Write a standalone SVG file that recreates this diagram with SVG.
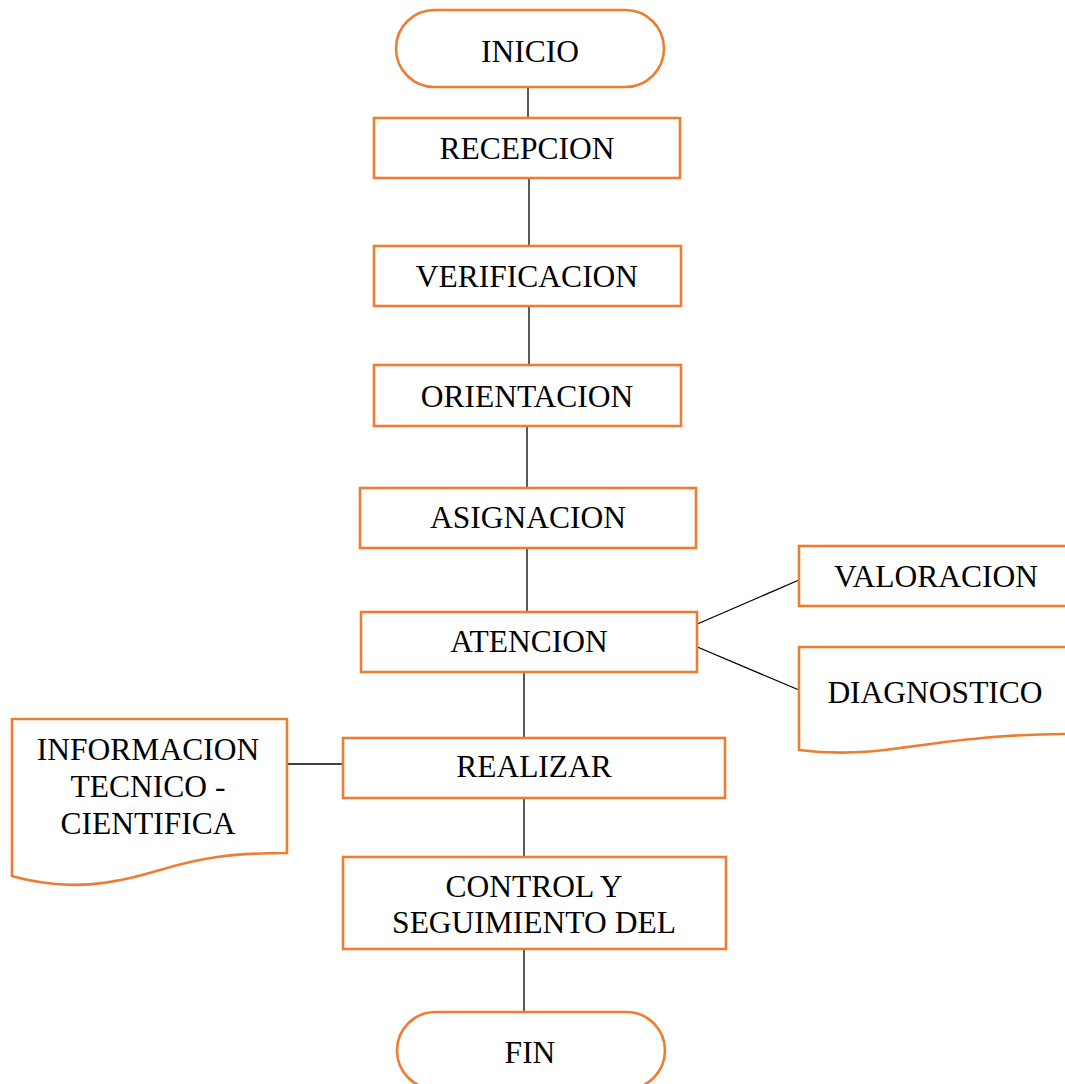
<svg xmlns="http://www.w3.org/2000/svg" width="1065" height="1084" viewBox="0 0 1065 1084">
<style>
.s{fill:#fff;stroke:#ED7D31;stroke-width:2.6}
.t{font-family:"Liberation Serif","Times New Roman",serif;font-size:31.5px;fill:#000;text-anchor:middle}
.c{stroke:#000;stroke-width:1.3;fill:none}
</style>
<rect width="1065" height="1084" fill="#fff"/>
<g id="connectors">
<line class="c" x1="528" y1="87" x2="528" y2="118"/>
<line class="c" x1="529" y1="178" x2="529" y2="246"/>
<line class="c" x1="529" y1="306" x2="529" y2="365"/>
<line class="c" x1="527" y1="426" x2="527" y2="488"/>
<line class="c" x1="527" y1="548" x2="527" y2="612"/>
<line class="c" x1="695" y1="625" x2="799" y2="580"/>
<line class="c" x1="695" y1="646" x2="799" y2="690"/>
<line class="c" x1="524" y1="672" x2="524" y2="738"/>
<line class="c" x1="287" y1="764" x2="343" y2="764"/>
<line class="c" x1="524" y1="798" x2="524" y2="857"/>
<line class="c" x1="524" y1="949" x2="524" y2="1012"/>
</g>
<g id="inicio">
<rect class="s" x="396" y="10" width="268" height="77" rx="38.5"/>
<text class="t" x="530" y="62">INICIO</text>
</g>
<g id="recepcion">
<rect class="s" x="374" y="118" width="306" height="60"/>
<text class="t" x="527" y="159">RECEPCION</text>
</g>
<g id="verificacion">
<rect class="s" x="374" y="246" width="307" height="60"/>
<text class="t" x="527" y="287">VERIFICACION</text>
</g>
<g id="orientacion">
<rect class="s" x="374" y="365" width="307" height="61"/>
<text class="t" x="527" y="407">ORIENTACION</text>
</g>
<g id="asignacion">
<rect class="s" x="360" y="488" width="336" height="60"/>
<text class="t" x="528" y="528">ASIGNACION</text>
</g>
<g id="atencion">
<rect class="s" x="361" y="612" width="336" height="60"/>
<text class="t" x="529" y="652">ATENCION</text>
</g>
<g id="valoracion">
<rect class="s" x="799" y="546" width="276" height="60"/>
<text class="t" x="936" y="587">VALORACION</text>
</g>
<g id="diagnostico">
<path class="s" d="M799,647 H1075 V734 C1000,734 960,740 900,748 C860,754 830,754 799,750 Z"/>
<text class="t" x="935" y="703">DIAGNOSTICO</text>
</g>
<g id="realizar">
<rect class="s" x="343" y="738" width="382" height="60"/>
<text class="t" x="534" y="777">REALIZAR</text>
</g>
<g id="informacion">
<path class="s" d="M12,719 H287 V853 C230,853 200,858 160,870 C120,882 90,887 55,884 C35,882 22,879 12,876 Z"/>
<text class="t" x="148" y="760">INFORMACION</text>
<text class="t" x="148" y="797">TECNICO -</text>
<text class="t" x="148" y="834">CIENTIFICA</text>
</g>
<g id="control">
<rect class="s" x="343" y="857" width="383" height="92"/>
<text class="t" x="534" y="897">CONTROL Y</text>
<text class="t" x="534" y="933">SEGUIMIENTO DEL</text>
</g>
<g id="fin">
<rect class="s" x="397" y="1012" width="268" height="77" rx="38.5"/>
<text class="t" x="530" y="1063">FIN</text>
</g>
</svg>
